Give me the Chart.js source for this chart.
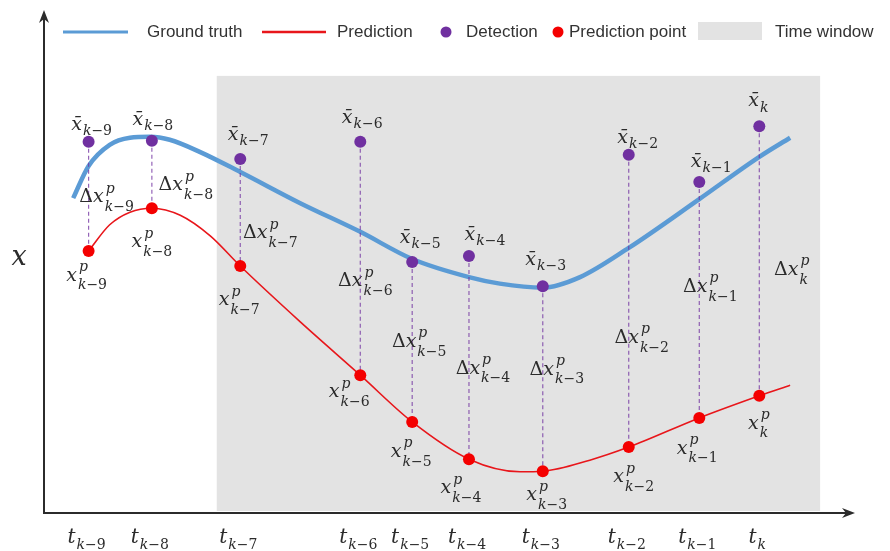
<!DOCTYPE html>
<html>
<head>
<meta charset="utf-8">
<script src="https://cdn.jsdelivr.net/npm/chart.js@4/dist/chart.umd.min.js"></script>
<style>
  html, body { margin: 0; padding: 0; background: #fff; }
  #chart { display: block; }
</style>
</head>
<body>
<canvas id="chart" width="890" height="551"></canvas>
<script>
// sample instants t_{k-n}, n = steps back
const steps = [9, 8, 7, 6, 5, 4, 3, 2, 1, 0]
const times = [5.5, 13.3, 24.2, 39.0, 45.4, 52.4, 61.5, 72.1, 80.8, 88.2]
const detections = [73.8, 74.0, 70.4, 73.8, 49.9, 51.1, 45.1, 71.2, 65.8, 76.9]
const predictions = [52.1, 60.6, 49.1, 27.4, 18.1, 10.7, 8.3, 13.1, 18.9, 23.3]

// ground truth curve samples
const truthT = [3.6, 5.5, 8.1, 10.6, 13.1, 15.5, 19.2, 24.2, 31.6, 39.0, 45.4, 52.4, 56.2, 61.5, 66.1, 72.1, 80.8, 88.2, 92.0]
const truthX = [62.6, 69.0, 73.2, 74.6, 74.8, 74.2, 71.8, 67.8, 61.6, 55.9, 50.5, 46.9, 45.6, 44.8, 46.9, 52.7, 62.4, 70.8, 74.6]

// prediction curve samples
const predCurveT = [5.5, 8.1, 10.6, 13.3, 16.8, 20.5, 24.2, 31.6, 39.0, 45.4, 52.4, 58.7, 61.5, 67.3, 72.1, 80.8, 88.2, 92.0]
const predCurveX = [52.1, 57.3, 59.8, 60.6, 59.2, 55.1, 49.1, 38.0, 27.4, 18.1, 10.7, 8.2, 8.3, 10.5, 13.1, 18.9, 23.3, 25.4]

// time window (x from..to, top)
const windowRange = [21.3, 95.7]
const windowTop = 86.9

const legendItems = ['Ground truth', 'Prediction', 'Detection', 'Prediction point', 'Time window']

// label nudges in px (layout only)
const detLabelDx = [3, 1, 8, 2, 8, 16, 3, 9, 12, -1]
const detLabelDy = [-12, -16, -19, -19, -19, -16, -21, -12, -15, -20]
const predLabelDx = [-2, 0, -1, -11, -1, -8, 4, 5, -2, -1]
const predLabelDy = [30, 39, 39, 22, 35, 34, 29, 35, 36, 33]
const deltaDx = [18, 34, 30, 5, 7, 14, 14, 13, 11, 32]
const deltaDy = [6, 16, 26, 28, 5, 16, -4, 42, -8, 14]

const BLUE = '#5b9bd5'
const RED = '#e8161b'
const DOT_RED = '#f40000'
const PURPLE = '#7030a0'
const GREY = '#e3e3e3'
const INK = '#2b2b2b'

const pts = (xs, ys) => xs.map((x, i) => ({ x, y: ys[i] }))

const stems = []
times.forEach((t, i) => {
  stems.push({ x: t, y: detections[i] }, { x: t, y: predictions[i] }, { x: t, y: null })
})

const italic = s => `italic ${s}px "DejaVu Serif"`
const upright = s => `${s}px "DejaVu Serif"`

// draws e.g. Δx^p_{k-3} centred at cx with main baseline at base
function drawSym(ctx, cx, base, o) {
  const size = o.size || 19
  const ss = o.ss || 14
  ctx.save()
  ctx.fillStyle = INK
  ctx.textBaseline = 'alphabetic'
  ctx.textAlign = 'left'
  ctx.font = upright(size)
  const wD = o.delta ? ctx.measureText('\u0394').width : 0
  ctx.font = italic(size)
  const wL = ctx.measureText(o.letter).width
  const subParts = o.n === 0 ? [['k', true]] : [['k', true], ['\u2212' + o.n, false]]
  let wSub = 0
  subParts.forEach(p => { ctx.font = p[1] ? italic(ss) : upright(ss); wSub += ctx.measureText(p[0]).width })
  ctx.font = italic(ss)
  const wSup = o.sup ? ctx.measureText(o.sup).width : 0
  const total = wD + wL + 1 + Math.max(wSub, wSup)
  let x = cx - total / 2
  if (o.delta) { ctx.font = upright(size); ctx.fillText('\u0394', x, base); x += wD }
  ctx.font = italic(size)
  ctx.fillText(o.bar ? o.letter + '\u0304' : o.letter, x, base)
  x += wL + 1
  if (o.sup) { ctx.font = italic(ss); ctx.fillText(o.sup, x + 1, base - size * 0.5) }
  let sx = x
  const sb = base + (o.sup ? size * 0.45 : size * 0.28)
  subParts.forEach(p => {
    ctx.font = p[1] ? italic(ss) : upright(ss)
    ctx.fillText(p[0], sx, sb)
    sx += ctx.measureText(p[0]).width
  })
  ctx.restore()
}

function arrow(ctx, x1, y1, x2, y2) {
  const a = Math.atan2(y2 - y1, x2 - x1)
  ctx.beginPath()
  ctx.moveTo(x1, y1)
  ctx.lineTo(x2 - 6 * Math.cos(a), y2 - 6 * Math.sin(a))
  ctx.stroke()
  ctx.save()
  ctx.translate(x2, y2)
  ctx.rotate(a)
  ctx.beginPath()
  ctx.moveTo(0, 0)
  ctx.lineTo(-13, -5)
  ctx.lineTo(-9, 0)
  ctx.lineTo(-13, 5)
  ctx.closePath()
  ctx.fill()
  ctx.restore()
}

const schematic = {
  id: 'schematic',
  beforeDatasetsDraw(chart) {
    const { ctx, scales: { x, y } } = chart
    ctx.save()
    ctx.fillStyle = GREY
    const l = x.getPixelForValue(windowRange[0])
    const r = x.getPixelForValue(windowRange[1])
    const t = y.getPixelForValue(windowTop)
    ctx.fillRect(l, t, r - l, y.getPixelForValue(0) - t - 2)
    ctx.restore()
  },
  afterDatasetsDraw(chart) {
    const { ctx, chartArea: ca, scales: { x, y } } = chart
    ctx.save()
    // axes
    ctx.strokeStyle = INK
    ctx.fillStyle = INK
    ctx.lineWidth = 2
    arrow(ctx, ca.left, ca.bottom + 1, ca.left, ca.top)
    arrow(ctx, ca.left - 1, ca.bottom, ca.right, ca.bottom)
    ctx.font = italic(27)
    ctx.textAlign = 'center'
    ctx.fillText('x', 19, 265)

    // labels
    times.forEach((t, i) => {
      const px = x.getPixelForValue(t)
      const n = steps[i]
      const yd = y.getPixelForValue(detections[i])
      const yp = y.getPixelForValue(predictions[i])
      drawSym(ctx, px + detLabelDx[i], yd + detLabelDy[i], { letter: 'x', bar: true, n })
      drawSym(ctx, px + predLabelDx[i], yp + predLabelDy[i], { letter: 'x', sup: 'p', n })
      drawSym(ctx, px + deltaDx[i], (yd + yp) / 2 + deltaDy[i], { letter: 'x', sup: 'p', delta: true, n })
      drawSym(ctx, px - 2, ca.bottom + 30, { letter: 't', n, size: 20 })
    })

    // legend
    const ly = 32
    ctx.lineCap = 'butt'
    ctx.lineWidth = 3
    ctx.strokeStyle = BLUE
    ctx.beginPath(); ctx.moveTo(63, ly); ctx.lineTo(128, ly); ctx.stroke()
    ctx.strokeStyle = RED
    ctx.lineWidth = 2.5
    ctx.beginPath(); ctx.moveTo(262, ly); ctx.lineTo(326, ly); ctx.stroke()
    ctx.fillStyle = PURPLE
    ctx.beginPath(); ctx.arc(446, ly, 5.5, 0, Math.PI * 2); ctx.fill()
    ctx.fillStyle = DOT_RED
    ctx.beginPath(); ctx.arc(558, ly, 5.5, 0, Math.PI * 2); ctx.fill()
    ctx.fillStyle = GREY
    ctx.fillRect(698, 22, 64, 18)
    ctx.fillStyle = '#333'
    ctx.font = '17px "Liberation Sans", Arial, sans-serif'
    ctx.textAlign = 'left'
    ctx.textBaseline = 'middle'
    const lx = [147, 337, 466, 569, 775]
    legendItems.forEach((s, i) => ctx.fillText(s, lx[i], ly))
    ctx.restore()
  }
}

new Chart(document.getElementById('chart'), {
  type: 'line',
  data: {
    datasets: [
      {
        label: 'Detection',
        data: pts(times, detections),
        showLine: false,
        pointRadius: 6,
        pointBackgroundColor: PURPLE,
        pointBorderWidth: 0,
        order: 0
      },
      {
        label: 'Prediction point',
        data: pts(times, predictions),
        showLine: false,
        pointRadius: 6,
        pointBackgroundColor: DOT_RED,
        pointBorderWidth: 0,
        order: 1
      },
      {
        label: 'stems',
        data: stems,
        borderColor: 'rgba(112,48,160,0.75)',
        borderWidth: 1.2,
        borderDash: [4, 3],
        pointRadius: 0,
        spanGaps: false,
        order: 2
      },
      {
        label: 'Prediction',
        data: pts(predCurveT, predCurveX),
        borderColor: RED,
        borderWidth: 1.6,
        pointRadius: 0,
        cubicInterpolationMode: 'monotone',
        order: 3
      },
      {
        label: 'Ground truth',
        data: pts(truthT, truthX),
        borderColor: BLUE,
        borderWidth: 4.5,
        borderCapStyle: 'butt',
        pointRadius: 0,
        cubicInterpolationMode: 'monotone',
        order: 4
      }
    ]
  },
  options: {
    responsive: false,
    animation: false,
    layout: { padding: { left: 44, right: 35, top: 10, bottom: 38 } },
    scales: {
      x: { type: 'linear', min: 0, max: 100, display: false },
      y: { min: 0, max: 100, display: false }
    },
    plugins: {
      legend: { display: false },
      tooltip: { enabled: false }
    }
  },
  plugins: [schematic]
})
</script>
</body>
</html>
